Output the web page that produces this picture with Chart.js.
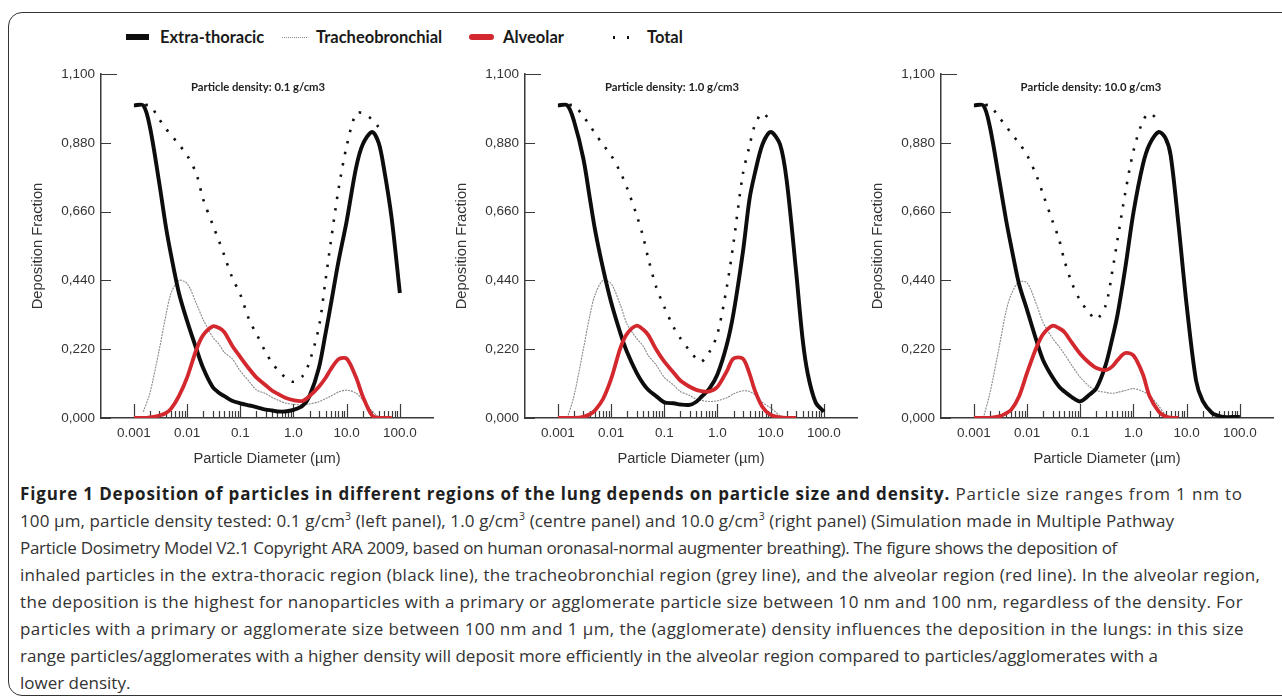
<!DOCTYPE html>
<html>
<head>
<meta charset="utf-8">
<script src="https://cdn.jsdelivr.net/npm/chart.js@4.4.1/dist/chart.umd.min.js"></script>
<style>
  html, body { margin: 0; padding: 0; background: #fff; }
  body { width: 1282px; height: 699px; position: relative; overflow: hidden; }
  #frame { position: absolute; left: 8px; top: 12px; width: 1300px; height: 684px;
           border: 1.5px solid #333; border-radius: 14px; box-sizing: border-box; }
  canvas.panel { position: absolute; top: 60px; }
  #legend { position: absolute; top: 26px; left: 0; height: 22px; }
  .item { position: absolute; top: 0; height: 22px; display: flex; align-items: center; white-space: nowrap;
          font-family: Lato, "Open Sans", sans-serif; font-weight: 700; font-size: 16.5px; color: #1a1a1a; }
  .sw { position: relative; flex: 0 0 24px; width: 24px; height: 8px; margin-right: 10px; }
  #caption { position: absolute; left: 20px; top: 480px; font-family: "Open Sans", sans-serif;
             font-size: 17px; line-height: 27px; color: #333; white-space: nowrap; }
  #caption b { color: #1f1f1f; }
  #caption sup { font-size: 10.5px; line-height: 0; }
</style>
</head>
<body>
<div id="frame"></div>
<div id="legend"></div>
<canvas class="panel" id="p1" width="412" height="420" style="left:25px"></canvas>
<canvas class="panel" id="p2" width="412" height="420" style="left:449px"></canvas>
<canvas class="panel" id="p3" width="412" height="420" style="left:865px"></canvas>
<div id="caption">
<div><span class="ln" data-w="1223"><b>Figure 1 Deposition of particles in different regions of the lung depends on particle size and density.</b> Particle size ranges from 1 nm to</span></div>
<div><span class="ln" data-w="1154">100 µm, particle density tested: 0.1 g/cm<sup>3</sup> (left panel), 1.0 g/cm<sup>3</sup> (centre panel) and 10.0 g/cm<sup>3</sup> (right panel) (Simulation made in Multiple Pathway</span></div>
<div><span class="ln" data-w="1097">Particle Dosimetry Model V2.1 Copyright ARA 2009, based on human oronasal-normal augmenter breathing). The figure shows the deposition of</span></div>
<div><span class="ln" data-w="1240">inhaled particles in the extra-thoracic region (black line), the tracheobronchial region (grey line), and the alveolar region (red line). In the alveolar region,</span></div>
<div><span class="ln" data-w="1223">the deposition is the highest for nanoparticles with a primary or agglomerate particle size between 10 nm and 100 nm, regardless of the density. For</span></div>
<div><span class="ln" data-w="1224">particles with a primary or agglomerate size between 100 nm and 1 µm, the (agglomerate) density influences the deposition in the lungs: in this size</span></div>
<div><span class="ln" data-w="1138">range particles/agglomerates with a higher density will deposit more efficiently in the alveolar region compared to particles/agglomerates with a</span></div>
<div><span>lower density.</span></div>
</div>

<script>
/* Deposition fraction vs particle diameter, three particle densities.
   Values (MPPD model output). */

const seriesNames = ['Extra-thoracic', 'Tracheobronchial', 'Alveolar', 'Total'];
const densities = ['0.1', '1.0', '10.0'];

// particle diameter, µm (shared x grid for every series)
const diameters = [0.001, 0.0015, 0.002, 0.003, 0.004, 0.005, 0.007, 0.01, 0.015, 0.02, 0.03, 0.04,
  0.05, 0.07, 0.1, 0.15, 0.2, 0.3, 0.4, 0.5, 0.7, 1, 1.5, 2, 3, 4, 5, 7, 10, 15, 20, 30, 40, 50, 70, 100];

// density 0.1 g/cm3
const extraP1 = [1.0, 1.0, 0.93, 0.75, 0.61, 0.52, 0.40, 0.31, 0.22, 0.16, 0.10, 0.08, 0.07, 0.055,
  0.047, 0.04, 0.035, 0.027, 0.024, 0.021, 0.021, 0.026, 0.04, 0.07, 0.16, 0.27, 0.36, 0.50, 0.63,
  0.80, 0.875, 0.915, 0.88, 0.80, 0.64, 0.40];
const tracheoP1 = [null, 0.02, 0.08, 0.22, 0.33, 0.40, 0.44, 0.43, 0.365, 0.315, 0.26, 0.235, 0.21,
  0.19, 0.15, 0.115, 0.09, 0.078, 0.065, 0.058, 0.048, 0.044, 0.042, 0.045, 0.052, 0.062, 0.07,
  0.083, 0.089, 0.08, 0.058, 0.022, 0.004, 0, null, null];
const alveolarP1 = [0, 0, 0.002, 0.008, 0.016, 0.03, 0.07, 0.13, 0.22, 0.265, 0.293, 0.288, 0.275,
  0.232, 0.195, 0.155, 0.13, 0.105, 0.087, 0.078, 0.065, 0.057, 0.055, 0.07, 0.10, 0.128, 0.155,
  0.188, 0.19, 0.13, 0.07, 0.008, 0, 0, 0, null];
const totalP1 = [1.0, 1.0, 1.0, 0.955, 0.925, 0.905, 0.875, 0.84, 0.78, 0.70, 0.62, 0.565, 0.52, 0.45,
  0.395, 0.31, 0.27, 0.21, 0.175, 0.155, 0.13, 0.116, 0.135, 0.18, 0.29, 0.44, 0.56, 0.73, 0.87,
  0.975, 0.975, 0.955, 0.93, null, null, null];

// density 1.0 g/cm3
const extraP2 = [1.0, 1.0, 0.95, 0.83, 0.70, 0.60, 0.48, 0.37, 0.27, 0.21, 0.145, 0.11, 0.09, 0.07,
  0.05, 0.047, 0.043, 0.042, 0.052, 0.068, 0.093, 0.14, 0.235, 0.335, 0.53, 0.70, 0.78, 0.875,
  0.915, 0.875, 0.76, 0.47, 0.25, 0.14, 0.05, 0.02];
const tracheoP2 = [null, 0, 0.07, 0.22, 0.33, 0.395, 0.44, 0.43, 0.36, 0.30, 0.255, 0.23, 0.20, 0.17,
  0.13, 0.105, 0.085, 0.072, 0.06, 0.056, 0.053, 0.055, 0.065, 0.077, 0.087, 0.085, 0.075, 0.05,
  0.032, 0.008, 0, null, null, null, null, null];
const alveolarP2 = [0, 0, 0, 0.004, 0.012, 0.025, 0.06, 0.125, 0.225, 0.27, 0.295, 0.283, 0.265, 0.22,
  0.18, 0.145, 0.12, 0.10, 0.09, 0.086, 0.085, 0.10, 0.15, 0.19, 0.19, 0.142, 0.09, 0.035, 0.01,
  0.002, 0, 0, null, null, null, null];
const totalP2 = [1.0, 1.0, 1.0, 0.965, 0.935, 0.91, 0.875, 0.84, 0.785, 0.735, 0.65, 0.58, 0.51, 0.42,
  0.355, 0.29, 0.255, 0.215, 0.19, 0.18, 0.21, 0.27, 0.42, 0.56, 0.78, 0.87, 0.935, 0.975, 0.95,
  null, null, null, null, null, null, null];

// density 10.0 g/cm3
const extraP3 = [1.0, 1.0, 0.93, 0.76, 0.635, 0.55, 0.43, 0.345, 0.247, 0.185, 0.13, 0.10, 0.085,
  0.066, 0.053, 0.075, 0.095, 0.17, 0.255, 0.33, 0.48, 0.658, 0.81, 0.875, 0.915, 0.895, 0.84,
  0.62, 0.36, 0.12, 0.055, 0.016, 0.007, 0.003, 0.003, 0.003];
const tracheoP3 = [null, 0, 0.08, 0.23, 0.34, 0.395, 0.435, 0.432, 0.363, 0.305, 0.255, 0.228, 0.205,
  0.167, 0.13, 0.10, 0.088, 0.082, 0.079, 0.082, 0.088, 0.094, 0.085, 0.072, 0.038, 0.01, 0,
  null, null, null, null, null, null, null, null, null];
const alveolarP3 = [0, 0, 0, 0.005, 0.015, 0.026, 0.068, 0.145, 0.226, 0.268, 0.295, 0.287, 0.275,
  0.24, 0.205, 0.175, 0.16, 0.153, 0.165, 0.185, 0.208, 0.20, 0.14, 0.07, 0.02, 0.005, 0.001, 0,
  null, null, null, null, null, null, null, null];
const totalP3 = [1.0, 1.0, 1.0, 0.96, 0.935, 0.91, 0.88, 0.84, 0.775, 0.715, 0.63, 0.57, 0.505, 0.43,
  0.375, 0.335, 0.315, 0.36, 0.47, 0.57, 0.72, 0.855, 0.95, 0.975, 0.95,
  null, null, null, null, null, null, null, null, null, null, null];

// axes
const xDecades = [0.001, 0.01, 0.1, 1, 10, 100];
const xTickLabels = ['0.001', '0.01', '0.1', '1.0', '10.0', '100.0'];
const yTicks = [0, 0.22, 0.44, 0.66, 0.88, 1.1];
const yTickLabels = ['0,000', '0,220', '0,440', '0,660', '0,880', '1,100'];

const X_MIN = 0.00024, X_MAX = 420;
const AXIS_COLOR = '#3a3a3a';
const TEXT_COLOR = '#333';
const lineColors = ['#0d0d0d', '#8a8a8a', '#d2282e', '#111'];

// minor log ticks 2..9 inside each decade
const xMinorTicks = [];
xDecades.slice(0, -1).forEach(d => {
  for (let m = 2; m <= 9; m++) xMinorTicks.push(d * m);
});

function toPoints(values) {
  return diameters.map((d, i) => ({ x: d, y: values[i] }));
}

// tick marks point into the plot, as in the original figure
const insideTicks = {
  id: 'insideTicks',
  beforeDatasetsDraw(chart) {
    const { ctx, chartArea, scales: { x, y } } = chart;
    ctx.save();
    ctx.strokeStyle = AXIS_COLOR;
    ctx.lineWidth = 1.2;
    ctx.beginPath();
    xMinorTicks.forEach(v => {
      const px = Math.round(x.getPixelForValue(v)) + 0.5;
      ctx.moveTo(px, chartArea.bottom);
      ctx.lineTo(px, chartArea.bottom - 7);
    });
    xDecades.forEach(v => {
      const px = Math.round(x.getPixelForValue(v)) + 0.5;
      ctx.moveTo(px, chartArea.bottom);
      ctx.lineTo(px, chartArea.bottom - 14);
    });
    yTicks.forEach((v, i) => {
      const py = Math.round(y.getPixelForValue(v)) + 0.5;
      const len = i === yTicks.length - 1 ? 16 : 10;
      ctx.moveTo(chartArea.left, py);
      ctx.lineTo(chartArea.left + len, py);
    });
    ctx.stroke();
    ctx.restore();
  }
};

// "Particle density: ..." label inside the plot
const panelLabel = {
  id: 'panelLabel',
  afterDraw(chart, args, opts) {
    const { ctx, chartArea } = chart;
    ctx.save();
    ctx.font = 'bold 11.3px Lato, sans-serif';
    ctx.fillStyle = '#222';
    ctx.textAlign = 'center';
    ctx.textBaseline = 'middle';
    ctx.fillText(opts.text, chartArea.left + opts.dx, chartArea.top + 13);
    ctx.restore();
  }
};

function makePanel(id, density, labelDx, extra, tracheo, alveolar, total) {
  const base = { pointRadius: 0, fill: false, tension: 0.3, spanGaps: false };
  return new Chart(document.getElementById(id), {
    type: 'line',
    data: {
      datasets: [
        { ...base, label: seriesNames[2], data: toPoints(alveolar), borderColor: lineColors[2], borderWidth: 3.8 },
        { ...base, label: seriesNames[0], data: toPoints(extra), borderColor: lineColors[0], borderWidth: 3.9 },
        { ...base, label: seriesNames[3], data: toPoints(total), borderColor: lineColors[3], borderWidth: 2.6,
          borderDash: [2.4, 9], borderCapStyle: 'butt' },
        { ...base, label: seriesNames[1], data: toPoints(tracheo), borderColor: lineColors[1], borderWidth: 1.1,
          borderDash: [2, 1] }
      ]
    },
    options: {
      responsive: false,
      animation: false,
      layout: { padding: { top: 10, right: 4, left: 0, bottom: 0 } },
      plugins: {
        legend: { display: false },
        tooltip: { enabled: false },
        panelLabel: { text: 'Particle density: ' + density + ' g/cm3', dx: labelDx }
      },
      scales: {
        x: {
          type: 'logarithmic',
          min: X_MIN,
          max: X_MAX,
          afterBuildTicks: s => { s.ticks = xDecades.map(v => ({ value: v })); },
          afterFit: s => { s.height = 62; },
          grid: { display: false, drawTicks: false },
          border: { display: true, color: AXIS_COLOR, width: 1.5 },
          ticks: {
            autoSkip: false, maxRotation: 0, padding: 7, color: TEXT_COLOR,
            font: { family: 'Liberation Sans', size: 13.5 },
            callback: (v, i) => xTickLabels[i]
          },
          title: {
            display: true, text: 'Particle Diameter (µm)', color: TEXT_COLOR,
            font: { family: 'Liberation Sans', size: 14.7 }, padding: { top: 0, bottom: 12 }
          }
        },
        y: {
          min: 0,
          max: 1.1,
          afterBuildTicks: s => { s.ticks = yTicks.map(v => ({ value: v })); },
          afterFit: s => { s.width = 76; },
          grid: { display: false, drawTicks: false },
          border: { display: true, color: AXIS_COLOR, width: 1.5 },
          ticks: {
            padding: 6, color: TEXT_COLOR,
            font: { family: 'Liberation Sans', size: 13.5 },
            callback: (v, i) => yTickLabels[i]
          },
          title: {
            display: true, text: 'Deposition Fraction', color: TEXT_COLOR,
            font: { family: 'Liberation Sans', size: 14.7 }, padding: { top: 4, bottom: 0 }
          }
        }
      }
    },
    plugins: [insideTicks, panelLabel]
  });
}

function buildLegend() {
  const legend = document.getElementById('legend');
  const lefts = [126, 282, 469, 613];
  const swatches = [
    '<div style="position:absolute;left:0;top:1px;width:23px;height:6px;background:#0d0d0d"></div>',
    '<div style="position:absolute;left:0;top:4px;width:25px;border-top:1px dotted #8a8a8a"></div>',
    '<div style="position:absolute;left:0;top:1px;width:25px;height:6px;background:#d2282e;border-radius:3px"></div>',
    '<div style="position:absolute;left:0;top:3px;width:2px;height:3px;background:#111"></div>' +
    '<div style="position:absolute;left:14px;top:3px;width:2px;height:3px;background:#111"></div>'
  ];
  seriesNames.forEach((name, i) => {
    const item = document.createElement('div');
    item.className = 'item';
    item.style.left = lefts[i] + 'px';
    item.innerHTML = '<div class="sw">' + swatches[i] + '</div><span>' + name + '</span>';
    legend.appendChild(item);
  });
}

// stretch / squeeze each caption line to the width it has in the original
function fitCaption() {
  document.querySelectorAll('#caption .ln').forEach(el => {
    const target = +el.dataset.w;
    const chars = el.textContent.length;
    for (let k = 0; k < 2; k++) {
      const w = el.getBoundingClientRect().width;
      const cur = parseFloat(el.style.letterSpacing) || 0;
      el.style.letterSpacing = (cur + (target - w) / chars).toFixed(3) + 'px';
    }
  });
}

buildLegend();
fitCaption();
makePanel('p1', densities[0], 157, extraP1, tracheoP1, alveolarP1, totalP1);
makePanel('p2', densities[1], 147, extraP2, tracheoP2, alveolarP2, totalP2);
makePanel('p3', densities[2], 150, extraP3, tracheoP3, alveolarP3, totalP3);
</script>
</body>
</html>
